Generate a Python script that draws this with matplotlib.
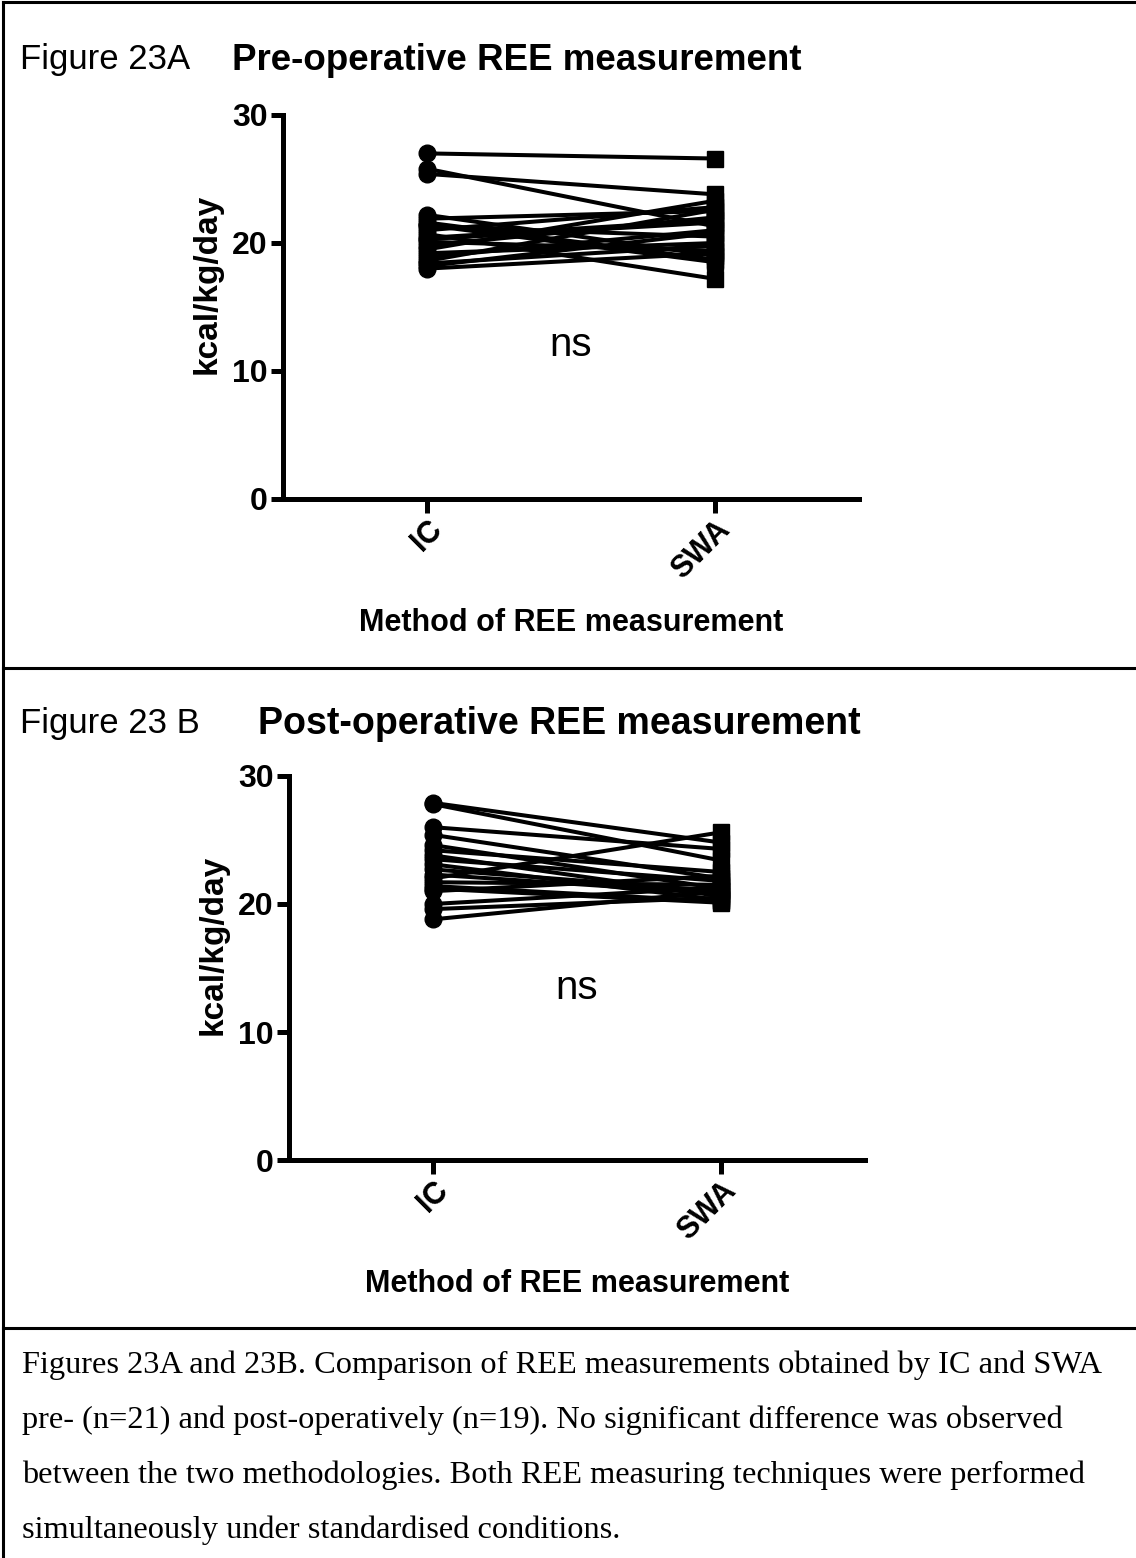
import numpy as np
import matplotlib.pyplot as plt
from matplotlib.lines import Line2D

plt.rcParams['font.family'] = ['Liberation Sans', 'DejaVu Sans']

# data (kcal/kg/day)
methods = ["IC", "SWA"]

pre_ic = [27.0, 25.8, 25.4, 22.2, 21.9, 21.6, 21.3, 21.0, 20.7, 20.4, 20.1,
          19.8, 19.5, 19.2, 18.9, 18.6, 18.4, 18.2, 18.0, 21.4, 20.3]
pre_swa = [26.6, 21.3, 23.8, 19.0, 22.5, 18.7, 20.5, 22.8, 17.2, 21.8, 19.4,
           22.0, 23.3, 20.0, 21.0, 22.6, 19.8, 20.8, 19.2, 18.5, 21.6]

post_ic = [27.9, 27.8, 26.0, 25.4, 24.6, 24.2, 23.8, 23.5, 23.1, 22.7, 22.3,
           22.0, 21.7, 21.4, 21.0, 20.0, 19.6, 18.8, 21.2]
post_swa = [24.8, 23.4, 24.3, 22.0, 21.2, 22.5, 20.6, 21.8, 20.3, 21.0, 20.8,
            25.6, 21.5, 20.2, 22.2, 21.3, 20.5, 21.0, 20.1]

W, H = 1136, 1558
fig = plt.figure(figsize=(W / 100, H / 100), dpi=100)


def fx(px):
    return px / W


def fy(py):
    return 1 - py / H


def paired_panel(rect, ic, swa, ns_y):
    ax = fig.add_axes(rect)
    for a, b in zip(ic, swa):
        ax.plot([0, 1], [a, b], color="black", lw=2.9, zorder=2)
    ax.plot(np.zeros(len(ic)), ic, "o", color="black", ms=12, zorder=3)
    ax.plot(np.ones(len(swa)), swa, "s", color="black", ms=11, zorder=3)
    ax.set_xlim(-0.5, 1.5)
    ax.set_ylim(0, 30)
    ax.set_yticks([0, 10, 20, 30])
    ax.set_xticks([0, 1])
    ax.set_xticklabels(methods, rotation=45, ha="right", rotation_mode="anchor",
                       fontsize=22, fontweight="bold")
    for lab in ax.get_yticklabels():
        lab.set_fontsize(23)
        lab.set_fontweight("bold")
    ax.tick_params(axis="both", width=3.6, length=9, direction="out", pad=2)
    ax.tick_params(axis="x", length=10, pad=1)
    for s in ["top", "right"]:
        ax.spines[s].set_visible(False)
    for s in ["left", "bottom"]:
        ax.spines[s].set_linewidth(3.6)
    ax.set_ylabel("kcal/kg/day", fontsize=24, fontweight="bold")
    ax.yaxis.set_label_coords(-0.105, 0.56)
    ax.set_xlabel("Method of REE measurement", fontsize=22, fontweight="bold", labelpad=17)
    ax.text(0.5, ns_y, "ns", fontsize=29, ha="center", va="center")
    ax.patch.set_alpha(0)
    return ax


# panel A
paired_panel([fx(283), fy(499), fx(859) - fx(283), fy(115) - fy(499)],
             pre_ic, pre_swa, 12.0)
fig.text(fx(20), fy(60), "Figure 23A", fontsize=25, va="center")
fig.text(fx(232), fy(60), "Pre-operative REE measurement", fontsize=26.5,
         fontweight="bold", va="center")

# panel B
paired_panel([fx(289), fy(1160), fx(865) - fx(289), fy(776) - fy(1160)],
             post_ic, post_swa, 13.4)
fig.text(fx(20), fy(724), "Figure 23 B", fontsize=25, va="center")
fig.text(fx(258), fy(724), "Post-operative REE measurement", fontsize=27,
         fontweight="bold", va="center")

# frame lines
for (x0, y0, x1, y1) in [(3, 2, W, 2), (3, 2, 3, H), (3, 668, W, 668), (3, 1328, W, 1328)]:
    fig.add_artist(Line2D([fx(x0), fx(x1)], [fy(y0), fy(y1)], color="black", lw=2.2))

caption = [
    "Figures 23A and 23B. Comparison of REE measurements obtained by IC and SWA",
    "pre- (n=21) and post-operatively (n=19). No significant difference was observed",
    "between the two methodologies. Both REE measuring techniques were performed",
    "simultaneously under standardised conditions.",
]
for i, line in enumerate(caption):
    fig.text(fx(22), fy(1365 + 55 * i), line, fontsize=23.3, va="center",
             family=["Liberation Serif", "DejaVu Serif"])

fig.savefig("out.png", dpi=100)
